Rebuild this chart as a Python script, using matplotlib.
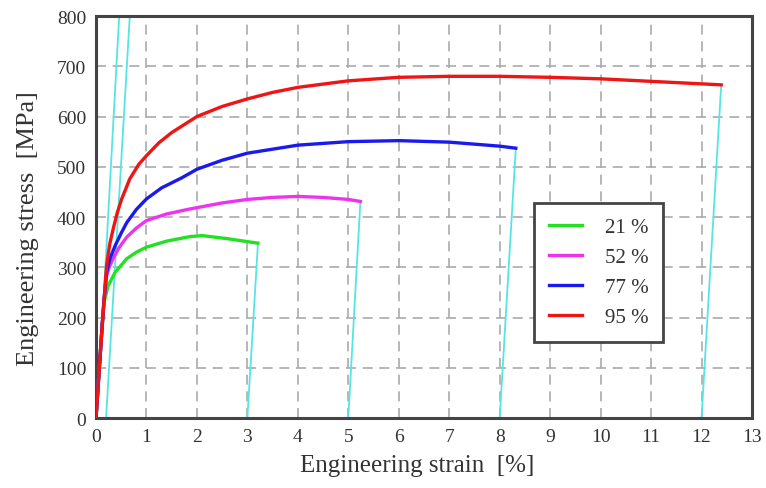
import matplotlib
matplotlib.use('Agg')
import matplotlib.pyplot as plt

# stress-strain curves (strain in %, stress in MPa)
green_strain = [0, 0.04, 0.08, 0.12, 0.16, 0.24, 0.38, 0.61, 0.8, 1.0, 1.4, 1.86, 2.1, 2.6, 3.0, 3.21]
green_stress = [0, 60, 120, 180, 230, 263, 290, 317, 330, 340, 352, 361, 363, 357, 351, 348]

magenta_strain = [0, 0.04, 0.08, 0.12, 0.16, 0.21, 0.27, 0.34, 0.45, 0.61, 0.8, 1.0, 1.4, 1.86,
                  2.5, 3.0, 3.5, 4.0, 4.5, 5.0, 5.24]
magenta_stress = [0, 60, 120, 180, 235, 283, 302, 317, 338, 360, 378, 393, 406, 416,
                  428, 435, 439, 441, 439, 435, 431]

blue_strain = [0, 0.04, 0.08, 0.12, 0.16, 0.21, 0.28, 0.38, 0.5, 0.61, 0.8, 1.0, 1.3, 1.7,
               2.0, 2.5, 3.0, 4.0, 5.0, 6.0, 7.0, 8.0, 8.32]
blue_stress = [0, 60, 120, 180, 235, 290, 318, 343, 368, 389, 415, 436, 458, 478,
               495, 513, 527, 543, 550, 552, 549, 541, 537]

red_strain = [0, 0.04, 0.08, 0.12, 0.16, 0.21, 0.27, 0.34, 0.42, 0.51, 0.67, 0.85, 1.0, 1.25,
              1.5, 2.0, 2.5, 3.0, 3.5, 4.0, 5.0, 6.0, 7.0, 8.0, 9.0, 10.0, 11.0, 12.0, 12.39]
red_stress = [0, 60, 120, 180, 235, 303, 345, 376, 408, 436, 476, 505, 522, 548,
              568, 600, 620, 635, 648, 658, 671, 678, 680, 680, 678, 675, 670, 665, 663]

# elastic (cyan) lines: start and end points
cyan_x0 = [0.02, 0.2, 3.0, 5.0, 8.0, 12.0]
cyan_x1 = [0.46, 0.67, 3.21, 5.24, 8.32, 12.39]
cyan_y1 = [800, 800, 348, 431, 537, 663]

labels = ['21 %', '52 %', '77 %', '95 %']
colors = ['#22e022', '#ee33ee', '#1a1aee', '#ee1515']

plt.rcParams['font.family'] = 'Liberation Serif'

fig = plt.figure(figsize=(7.66, 4.89), dpi=100)
ax = fig.add_axes([0.1253, 0.1431, 0.8564, 0.8221])

for x0, x1, y1 in zip(cyan_x0, cyan_x1, cyan_y1):
    ax.plot([x0, x1], [0, y1], color='#55e5e5', lw=1.3, zorder=2)

curves = [(green_strain, green_stress), (magenta_strain, magenta_stress),
          (blue_strain, blue_stress), (red_strain, red_stress)]
for (xs, ys), c, lab in zip(curves, colors, labels):
    ax.plot(xs, ys, color=c, lw=2.4, label=lab, zorder=3, solid_joinstyle='round')

ax.set_xlim(0, 13)
ax.set_ylim(0, 800)
ax.set_xticks(range(0, 14))
ax.set_yticks(range(0, 801, 100))
ax.grid(True, color='#aaaaaa', linestyle=(0, (6, 4)), lw=1.2)
ax.tick_params(length=0, labelsize=14, pad=7, colors='#333333')
for s in ax.spines.values():
    s.set_color('#444444')
    s.set_linewidth(2.2)

ax.set_xlabel('Engineering strain  [%]', fontsize=18, color='#333333')
ax.set_ylabel('Engineering stress  [MPa]', fontsize=19, color='#333333')
ax.xaxis.set_label_coords(0.49, -0.09)
ax.yaxis.set_label_coords(-0.087, 0.475)

leg = ax.legend(loc='upper left', bbox_to_anchor=(0.668, 0.535), fontsize=15,
                fancybox=False, framealpha=1, edgecolor='#444444',
                handlelength=1.6, handletextpad=1.1, labelspacing=0.5,
                borderpad=0.7, borderaxespad=0)
leg.get_frame().set_linewidth(2.0)
for t in leg.get_texts():
    t.set_color('#333333')
for l in leg.get_lines():
    l.set_linewidth(2.4)

fig.savefig('out.png', dpi=100)
